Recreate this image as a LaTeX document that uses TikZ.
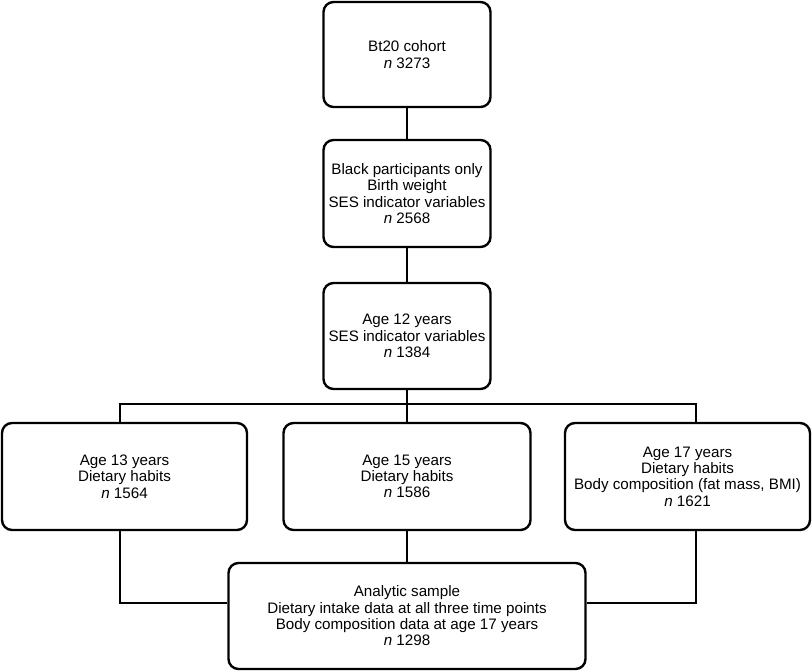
\documentclass[tikz,border=0pt]{standalone}
\usepackage{fontspec}
\setmainfont{Liberation Sans}
\usetikzlibrary{positioning,calc}

\begin{document}
\begin{tikzpicture}[
    box/.style={draw, line width=1.7pt, rounded corners=0.25cm, align=center,
      inner sep=2pt, font=\fontsize{10.8}{11.6}\selectfont},
    link/.style={line width=1.7pt}
  ]
    \useasboundingbox (0,0) rectangle (20.3,-16.775);

    % Top chain
    \node[box, minimum width=4.175cm, minimum height=2.625cm] (cohort) at (10.175,-1.3625)
      {Bt20 cohort\\\textit{n} 3273};
    \node[box, minimum width=4.175cm, minimum height=2.675cm] (birth) at (10.175,-4.8375)
      {Black participants only\\Birth weight\\SES indicator variables\\\textit{n} 2568};
    \node[box, minimum width=4.175cm, minimum height=2.65cm] (age12) at (10.175,-8.4)
      {Age 12 years\\SES indicator variables\\\textit{n} 1384};

    % Follow-up waves
    \node[box, minimum width=6.125cm, minimum height=2.675cm] (age13) at (3.1125,-11.9125)
      {Age 13 years\\Dietary habits\\\textit{n} 1564};
    \node[box, minimum width=6.175cm, minimum height=2.675cm] (age15) at (10.175,-11.9125)
      {Age 15 years\\Dietary habits\\\textit{n} 1586};
    \node[box, minimum width=6.125cm, minimum height=2.675cm] (age17) at (17.1875,-11.9125)
      {Age 17 years\\Dietary habits\\Body composition (fat mass, BMI)\\\textit{n} 1621};

    % Analytic sample
    \node[box, minimum width=8.925cm, minimum height=2.65cm] (sample) at (10.175,-15.4)
      {Analytic sample\\Dietary intake data at all three time points\\Body composition data at age 17 years\\\textit{n} 1298};

    \coordinate (split) at (10.175,-10.1);
    \coordinate (joinL) at ($(sample.west)+(0,0.325)$);
    \coordinate (joinR) at ($(sample.east)+(0,0.325)$);

    % Connectors
    \draw[link] (cohort) -- (birth);
    \draw[link] (birth) -- (age12);
    \draw[link] (age12) -- (split);
    \draw[link] ([xshift=-0.1125cm]age13.north) |- (split) -| ([xshift=0.2125cm]age17.north);
    \draw[link] (split) -- (age15);
    \draw[link] ([xshift=-0.1125cm]age13.south) |- (joinL);
    \draw[link] ([xshift=0.2125cm]age17.south) |- (joinR);
    \draw[link] (age15) -- (sample);

  \end{tikzpicture}
\end{document}
